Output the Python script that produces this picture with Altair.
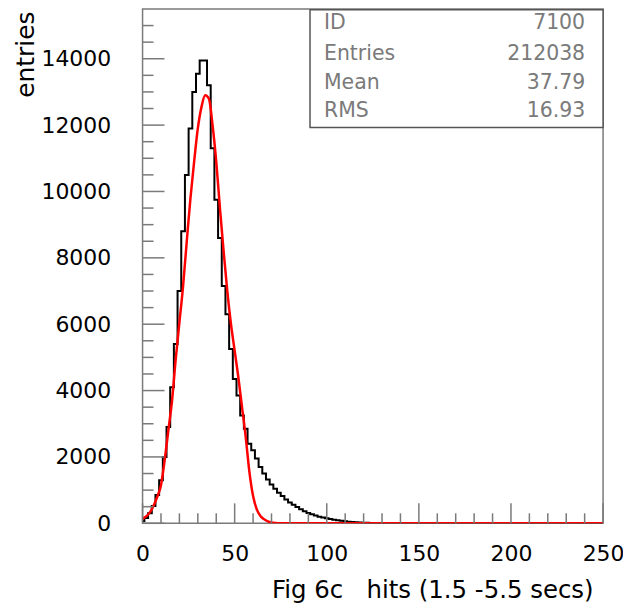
import altair as alt
import pandas as pd

# ---------------- data ----------------
x_label_values = [0, 50, 100, 150, 200, 250]
y_label_values = [0, 2000, 4000, 6000, 8000, 10000, 12000, 14000]
x_minor_ticks = [10, 20, 30, 40, 60, 70, 80, 90, 110, 120, 130, 140,
                 160, 170, 180, 190, 210, 220, 230, 240]
y_minor_ticks = [500, 1000, 1500, 2500, 3000, 3500, 4500, 5000, 5500,
                 6500, 7000, 7500, 8500, 9000, 9500, 10500, 11000, 11500,
                 12500, 13000, 13500, 14500, 15000]

# histogram: 2-unit bins, centres
hist_centers = list(range(0, 136, 2))
hist_counts = [70, 160, 300, 520, 850, 1300, 2000, 2900, 4100, 5400,
               7000, 8800, 10500, 11900, 13000, 13550, 13950, 13950, 13200, 11300,
               9750, 8600, 7150, 6300, 5250, 4350, 3850, 3250, 2850, 2400,
               2200, 1950, 1700, 1500, 1320, 1170, 1040, 920, 820, 720,
               630, 560, 490, 420, 360, 310, 270, 235, 200, 175,
               150, 128, 108, 90, 75, 62, 50, 40, 32, 26,
               20, 16, 12, 9, 7, 5, 3, 2]

# red fitted curve
fit_x = [0, 4, 8, 10, 12, 14, 16, 18, 20, 22, 24, 26, 28, 30, 32, 34, 36,
         38, 40, 42, 44, 46, 48, 50, 52, 54, 56, 58, 60, 62, 64, 66, 68, 70,
         72, 75, 80, 250]
fit_y = [130, 330, 800, 1150, 1900, 2800, 3700, 4950, 6050, 7150, 8500,
         9800, 10900, 11900, 12550, 12900, 12800, 12000, 10900, 9500, 8200,
         7000, 6000, 5200, 4400, 3500, 2600, 1550, 820, 420, 220, 120, 60,
         25, 8, 0, 0, 0]

stats_labels = ["ID", "Entries", "Mean", "RMS"]
stats_values = ["7100", "212038", "37.79", "16.93"]

# ---------------- layout ----------------
W, H = 462, 516
XMAX, YMAX = 250, 15500
FONT = "DejaVu Sans"
GRAY = "#7a7a7a"

xs = alt.Scale(domain=[0, XMAX], nice=False, zero=False)
ys = alt.Scale(domain=[0, YMAX], nice=False, zero=False)

hist_df = pd.DataFrame({
    "x": [c - 1 for c in hist_centers] + [hist_centers[-1] + 1, XMAX],
    "n": hist_counts + [0, 0],
})
fit_df = pd.DataFrame({"x": fit_x, "n": fit_y})

x_axis = alt.Axis(values=x_label_values, ticks=False, domain=False, grid=False,
                  labelFont=FONT, labelFontSize=22, labelColor="black",
                  labelPadding=20, labelFlush=False,
                  title="Fig 6c\u00a0\u00a0 hits (1.5 -5.5 secs)",
                  titleFont=FONT, titleFontSize=24.5, titleFontWeight="normal",
                  titleColor="black", titleX=452, titleY=74,
                  titleAlign="right", titleBaseline="alphabetic")
y_axis = alt.Axis(values=y_label_values, ticks=False, domain=False, grid=False,
                  labelFont=FONT, labelFontSize=22, labelColor="black",
                  labelPadding=32, labelFlush=False, format="d",
                  title="entries", titleFont=FONT, titleFontSize=25,
                  titleFontWeight="normal", titleColor="black",
                  titleAngle=270, titleX=-109, titleY=2,
                  titleAlign="right", titleBaseline="alphabetic")

hist = alt.Chart(hist_df).mark_line(
    interpolate="step-after", color="black", strokeWidth=2, clip=True
).encode(x=alt.X("x:Q", scale=xs, axis=x_axis),
         y=alt.Y("n:Q", scale=ys, axis=y_axis))

fit = alt.Chart(fit_df).mark_line(
    interpolate="monotone", color="#ff0000", strokeWidth=2.5, clip=True
).encode(x=alt.X("x:Q", scale=xs, axis=x_axis),
         y=alt.Y("n:Q", scale=ys, axis=y_axis))

def yticks(vals, length):
    return alt.Chart(pd.DataFrame({"n": vals})).mark_rule(
        color=GRAY, strokeWidth=1.5
    ).encode(y=alt.Y("n:Q", scale=ys, axis=y_axis),
             x=alt.value(0), x2=alt.value(length))

def xticks(vals, length):
    return alt.Chart(pd.DataFrame({"x": vals})).mark_rule(
        color=GRAY, strokeWidth=1.5
    ).encode(x=alt.X("x:Q", scale=xs, axis=x_axis),
             y=alt.value(H), y2=alt.value(H - length))

one = pd.DataFrame({"a": [0]})
box = alt.Chart(one).mark_rect(
    fill="white", stroke="#555555", strokeWidth=1.5
).encode(x=alt.value(168), x2=alt.value(W), y=alt.value(0.75), y2=alt.value(119))

row_y = [14, 45, 74, 102]
texts = []
for lab, val, yy in zip(stats_labels, stats_values, row_y):
    texts.append(alt.Chart(one).mark_text(
        align="left", baseline="middle", font=FONT, fontSize=20.5, color="#7a7a7a"
    ).encode(x=alt.value(182), y=alt.value(yy), text=alt.value(lab)))
    texts.append(alt.Chart(one).mark_text(
        align="right", baseline="middle", font=FONT, fontSize=20.5, color="#7a7a7a"
    ).encode(x=alt.value(444), y=alt.value(yy), text=alt.value(val)))

chart = alt.layer(
    hist, fit,
    yticks(y_minor_ticks, 11), yticks(y_label_values, 22),
    xticks(x_minor_ticks, 10), xticks(x_label_values, 20),
    box, *texts
).properties(
    width=W, height=H,
    autosize=alt.AutoSizeParams(type="none"),
    padding={"left": 135, "top": 0, "right": 20, "bottom": 81},
).configure_view(stroke=GRAY, strokeWidth=1.5)

chart.save("out.html", embed_options={"renderer": "svg", "actions": False})
